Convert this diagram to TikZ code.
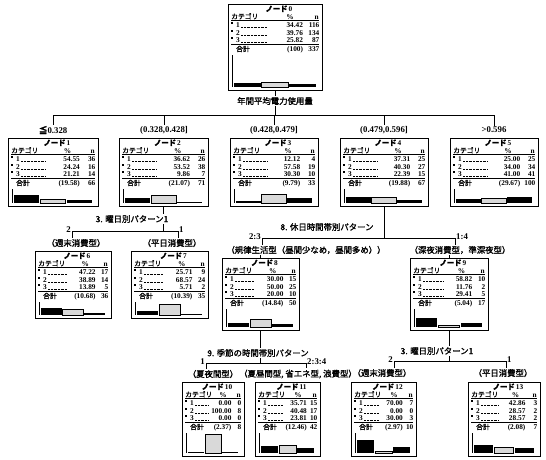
\documentclass[tikz,border=0pt]{standalone}
\usepackage{fontspec}
\setmainfont{Liberation Serif}
\newfontfamily\jp{Noto Sans CJK JP}[FakeBold=1.6]
\def\tbdata#1/#2/#3/#4/#5/#6/#7/#8\relax{\def\dPa{#1}\def\dNa{#2}\def\dPb{#3}\def\dNb{#4}\def\dPc{#5}\def\dNc{#6}\def\dPt{#7}\def\dNt{#8}}
\newcommand\tbrow[5]{%
  \fill ({3},{#2-5.5}) rectangle ({5.2},{#2-3.3});
  \node[txt, anchor=base west] (#1-c) at ({8},{#2}) {#3};
  \draw[leader] ({13},{#2}) -- ({0.42*\bxW},{#2});
  \node[txt, anchor=base east] (#1-p) at ({0.8*\bxW},{#2}) {#4};
  \node[txt, anchor=base east] (#1-n) at ({\bxW-2.5},{#2}) {#5};
}
\newcommand\tbox[8]{%
  \node[box, minimum width=#4pt, minimum height=#5pt, anchor=north west] (#1) at (#2,#3) {};
  \tbdata#7\relax
  \begin{scope}[shift={(#1.north west)}]
    \def\bxW{#4}\def\bxH{#5}\def\bxK{#8}
    \node[txt, anchor=base] (#1-t) at ({\bxW/2+4},{7.5}) {{\jp\bfseries ノード}\,#6};
    \node[jtxt, anchor=base west] (#1-hc) at ({3},{15}) {カテゴリ};
    \node[txt, anchor=base] (#1-hp) at ({0.66*\bxW},{15}) {\%};
    \node[txt, anchor=base east] (#1-hn) at ({\bxW-3},{15}) {n};
    \draw[line width=0.6pt] ({3},{16.5}) -- ({\bxW-3},{16.5});
    \tbrow{#1-a}{23.5}{1}{\dPa}{\dNa}
    \tbrow{#1-b}{31}{2}{\dPb}{\dNb}
    \tbrow{#1-c}{38.5}{3}{\dPc}{\dNc}
    \draw[rule] ({3},{40}) -- ({\bxW-3},{40});
    \node[jtxt, anchor=base west] (#1-tl) at ({8},{47.5}) {合計};
    \node[txt, anchor=base east] (#1-tp) at ({0.8*\bxW},{47.5}) {\dPt};
    \node[txt, anchor=base east] (#1-tn) at ({\bxW-2.5},{47.5}) {\dNt};
    \draw[line width=0.7pt] ({4},{51}) -- ({4},{\bxH-3});
    \pgfmathsetmacro\bw{(\bxW-14)/3}
    \pgfmathsetmacro\ha{max(1.3,\bxK*\dPa)}
    \pgfmathsetmacro\hb{max(1.3,\bxK*\dPb)}
    \pgfmathsetmacro\hc{max(1.3,\bxK*\dPc)}
    \fill ({6},{\bxH-3}) rectangle ({6+\bw},{\bxH-3-\ha});
    \filldraw[greybar] ({7+\bw},{\bxH-3}) rectangle ({7+2*\bw},{\bxH-3-\hb});
    \fill ({8+2*\bw},{\bxH-3}) rectangle ({8+3*\bw},{\bxH-3-\hc});
  \end{scope}}
\begin{document}
\begin{tikzpicture}[x=1pt, y=-1pt,
  box/.style={draw, line width=1pt, inner sep=0pt, outer sep=0pt, fill=white},
  txt/.style={inner sep=0pt, font=\fontsize{7.3}{8}\selectfont\bfseries},
  jtxt/.style={inner sep=0pt, font=\fontsize{6.8}{8}\selectfont\jp},
  lbl/.style={inner sep=1pt, font=\fontsize{8.4}{9}\selectfont\jp},
  num/.style={inner sep=1pt, font=\fontsize{8.8}{9}\selectfont\bfseries},
  edge/.style={line width=0.7pt},
  leader/.style={line width=0.4pt, dash pattern=on 0.6pt off 0.8pt},
  rule/.style={line width=0.9pt},
  greybar/.style={draw=black, line width=0.6pt, fill=gray!30}]
\useasboundingbox (0,0) rectangle (546,459);

% ---- boxes
\tbox{n0}{228}{4}{94}{86}{0}{34.42/116/39.76/134/25.82/87/(100)/337}{0.13}
\tbox{n1}{8}{138}{90}{68}{1}{54.55/36/24.24/16/21.21/14/(19.58)/66}{0.15}
\tbox{n2}{119}{138}{89}{68}{2}{36.62/26/53.52/38/9.86/7/(21.07)/71}{0.15}
\tbox{n3}{230}{138}{88}{68}{3}{12.12/4/57.58/19/30.30/10/(9.79)/33}{0.15}
\tbox{n4}{340}{138}{88}{68}{4}{37.31/25/40.30/27/22.39/15/(19.88)/67}{0.15}
\tbox{n5}{450}{138}{88}{68}{5}{25.00/25/34.00/34/41.00/41/(29.67)/100}{0.15}
\tbox{n6}{35}{251}{76}{67}{6}{47.22/17/38.89/14/13.89/5/(10.68)/36}{0.15}
\tbox{n7}{131}{251}{77}{67}{7}{25.71/9/68.57/24/5.71/2/(10.39)/35}{0.15}
\tbox{n8}{222}{258}{77}{72}{8}{30.00/15/50.00/25/20.00/10/(14.84)/50}{0.15}
\tbox{n9}{410}{258}{78}{72}{9}{58.82/10/11.76/2/29.41/5/(5.04)/17}{0.15}
\tbox{n10}{182}{382}{62}{74}{10}{0.00/0/100.00/8/0.00/0/(2.37)/8}{0.19}
\tbox{n11}{255}{382}{65}{74}{11}{35.71/15/40.48/17/23.81/10/(12.46)/42}{0.19}
\tbox{n12}{351}{382}{65}{74}{12}{70.00/7/0.00/0/30.00/3/(2.97)/10}{0.19}
\tbox{n13}{468}{382}{72}{74}{13}{42.86/3/28.57/2/28.57/2/(2.08)/7}{0.19}

% ---- split 0
\node[lbl] (s0) at (275,101) {年間平均電力使用量};
\coordinate (b0a) at (53,115);
\coordinate (b0e) at (494,115);
\draw[edge] (n0.south) -- (s0.north);
\draw[edge] (s0.south) -- (s0.south |- b0a);
\draw[edge] (b0a) -- (b0e);
\node[num] (c1) at (53,130) {{\jp ≦}0.328};
\node[num] (c2) at (164,130) {(0.328,0.428]};
\node[num] (c3) at (274,130) {(0.428,0.479]};
\node[num] (c4) at (384,130) {(0.479,0.596]};
\node[num] (c5) at (494,130) {>0.596};
\foreach \c in {c1,c2,c3,c4,c5} \draw[edge] (\c.north |- b0a) -- (\c.north);

% ---- split 2
\node[lbl] (s2) at (132,219) {3. 曜日別パターン1};
\coordinate (b2a) at (72,231);
\coordinate (b2e) at (178,231);
\draw[edge] (n2.south) -- (n2.south |- s2.north);
\draw[edge] (n2.south |- s2.south) -- (n2.south |- b2a);
\draw[edge] (b2a) -- (b2e);
\node[num, anchor=south east, yshift=-3pt] (t2a) at (b2a) {2};
\node[num, anchor=south west, yshift=-3pt] (t2e) at (b2e) {1};
\node[lbl] (c6) at (76,243) {（週末消費型）};
\node[lbl] (c7) at (172,243) {（平日消費型）};
\draw[edge] (b2a) -- (b2a |- c6.north);
\draw[edge] (b2e) -- (b2e |- c7.north);

% ---- split 4
\node[lbl] (s4) at (327,227) {8. 休日時間帯別パターン};
\coordinate (b4a) at (262,238);
\coordinate (b4e) at (455,238);
\draw[edge] (n4.south) -- (n4.south |- b4a);
\draw[edge] (b4a) -- (b4e);
\node[num, anchor=south east, yshift=-3pt] (t4a) at (b4a) {2:3};
\node[num, anchor=south west, yshift=-3pt] (t4e) at (b4e) {1:4};
\node[lbl] (c8) at (306,250) {（規律生活型（昼間少なめ，昼間多め））};
\node[lbl] (c9) at (460,250) {（深夜消費型，準深夜型）};
\draw[edge] (b4a) -- (b4a |- c8.north);
\draw[edge] (b4e) -- (b4e |- c9.north);
\draw[edge] (n8.north |- c8.south) -- (n8.north);
\draw[edge] (n9.north |- c9.south) -- (n9.north);

% ---- split 8
\node[lbl] (s8) at (258,353) {9. 季節の時間帯別パターン};
\coordinate (b8a) at (206,363);
\coordinate (b8e) at (306,363);
\draw[edge] (n8.south) -- (n8.south |- s8.north);
\draw[edge] (n8.south |- s8.south) -- (n8.south |- b8a);
\draw[edge] (b8a) -- (b8e);
\node[num, anchor=south east, yshift=-3pt] (t8a) at (b8a) {1};
\node[num, anchor=south west, yshift=-3pt] (t8e) at (b8e) {2:3:4};
\node[lbl] (c10) at (213,374) {（夏夜間型）};
\node[lbl] (c11) at (298,374) {（夏昼間型, 省エネ型, 浪費型）};
\draw[edge] (b8a) -- (b8a |- c10.north);
\draw[edge] (b8e) -- (b8e |- c11.north);

% ---- split 9
\node[lbl] (s9) at (437,351) {3. 曜日別パターン1};
\coordinate (b9a) at (394,361);
\coordinate (b9e) at (506,361);
\draw[edge] (n9.south) -- (n9.south |- s9.north);
\draw[edge] (n9.south |- s9.south) -- (n9.south |- b9a);
\draw[edge] (b9a) -- (b9e);
\node[num, anchor=south east, yshift=-3pt] (t9a) at (b9a) {2};
\node[num, anchor=south west, yshift=-3pt] (t9e) at (b9e) {1};
\node[lbl] (c12) at (382,373) {（週末消費型）};
\node[lbl] (c13) at (503,373) {（平日消費型）};
\draw[edge] (b9a) -- (b9a |- c12.north);
\draw[edge] (b9e) -- (b9e |- c13.north);
\end{tikzpicture}
\end{document}
